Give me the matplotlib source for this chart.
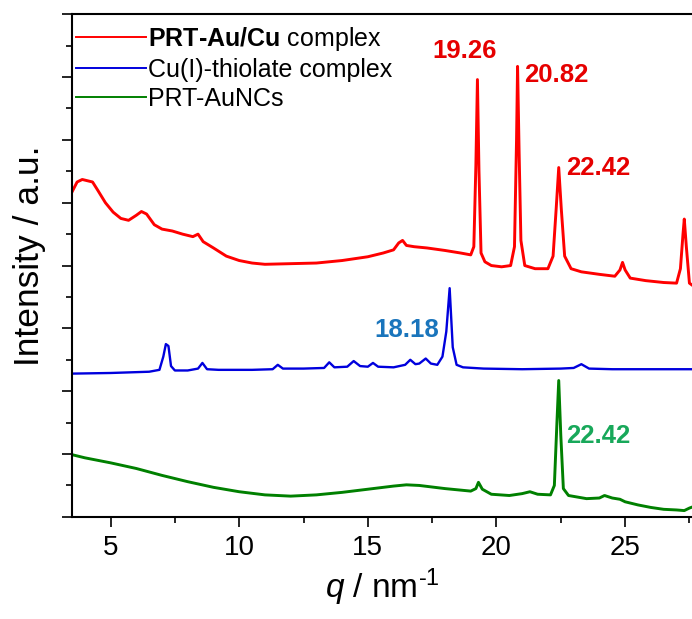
import matplotlib
matplotlib.use("Agg")
import matplotlib.pyplot as plt
from matplotlib.ticker import MultipleLocator, NullFormatter

plt.rcParams['font.family'] = ['Liberation Sans', 'DejaVu Sans']
plt.rcParams['mathtext.fontset'] = 'custom'
plt.rcParams['mathtext.rm'] = 'Liberation Sans'
plt.rcParams['mathtext.it'] = 'Liberation Sans:italic'
plt.rcParams['mathtext.bf'] = 'Liberation Sans:bold'

# PRT-Au/Cu complex (offset trace, top)
red_q = [3.5, 3.7, 3.9, 4.1, 4.3, 4.5, 4.8, 5.1, 5.4, 5.7, 6.0, 6.2, 6.4, 6.7,
         7.0, 7.4, 7.8, 8.2, 8.4, 8.6, 9.0, 9.5, 10.0, 10.5, 11.0, 12.0, 13.0,
         14.0, 15.0, 15.6, 16.0, 16.2, 16.35, 16.5, 16.8, 17.3, 18.0, 18.6,
         19.0, 19.12, 19.2, 19.26, 19.32, 19.4, 19.55, 19.8, 20.2, 20.55, 20.7,
         20.78, 20.82, 20.88, 20.95, 21.1, 21.5, 22.0, 22.2, 22.32, 22.42,
         22.52, 22.65, 22.9, 23.3, 24.0, 24.6, 24.8, 24.9, 25.0, 25.2, 25.8,
         26.5, 27.0, 27.15, 27.25, 27.3, 27.38, 27.5, 27.7]
red_i = [5.17, 5.33, 5.37, 5.35, 5.33, 5.20, 5.00, 4.85, 4.75, 4.72, 4.80, 4.86,
         4.82, 4.65, 4.58, 4.55, 4.50, 4.46, 4.50, 4.38, 4.28, 4.15, 4.08, 4.04,
         4.02, 4.03, 4.04, 4.08, 4.14, 4.20, 4.25, 4.36, 4.40, 4.32, 4.30, 4.28,
         4.24, 4.20, 4.17, 4.30, 5.60, 6.96, 5.50, 4.20, 4.06, 4.00, 3.98, 4.00,
         4.30, 6.00, 7.17, 5.80, 4.40, 4.00, 3.95, 3.95, 4.15, 4.90, 5.56, 4.90,
         4.15, 3.95, 3.90, 3.86, 3.83, 3.93, 4.05, 3.93, 3.80, 3.76, 3.73, 3.72,
         3.95, 4.50, 4.74, 4.30, 3.72, 3.66]

# Cu(I)-thiolate complex (middle)
blue_q = [3.5, 5.0, 6.5, 6.9, 7.05, 7.15, 7.25, 7.35, 7.5, 8.0, 8.4, 8.57, 8.75,
          9.2, 10.5, 11.3, 11.5, 11.7, 12.5, 13.3, 13.5, 13.7, 14.2, 14.45, 14.7,
          15.0, 15.2, 15.4, 16.0, 16.45, 16.65, 16.85, 17.0, 17.25, 17.45, 17.7,
          17.9, 18.05, 18.18, 18.3, 18.45, 18.7, 19.5, 21.0, 22.5, 23.0, 23.3,
          23.6, 24.5, 26.0, 27.7]
blue_i = [2.28, 2.29, 2.31, 2.34, 2.55, 2.75, 2.72, 2.40, 2.33, 2.33, 2.36, 2.45,
          2.35, 2.34, 2.34, 2.35, 2.42, 2.36, 2.36, 2.37, 2.46, 2.38, 2.39, 2.48,
          2.40, 2.39, 2.45, 2.39, 2.38, 2.42, 2.50, 2.43, 2.44, 2.52, 2.44, 2.42,
          2.55, 2.95, 3.64, 2.70, 2.42, 2.38, 2.36, 2.35, 2.36, 2.37, 2.43, 2.36,
          2.35, 2.35, 2.35]

# PRT-AuNCs (bottom)
green_q = [3.5, 4.0, 5.0, 6.0, 7.0, 8.0, 9.0, 10.0, 11.0, 12.0, 13.0, 14.0, 15.0,
           16.0, 16.5, 17.0, 18.0, 19.0, 19.2, 19.3, 19.45, 19.8, 20.5, 21.0,
           21.3, 21.6, 22.1, 22.25, 22.35, 22.42, 22.5, 22.6, 22.8, 23.5, 24.0,
           24.2, 24.5, 24.8, 25.0, 25.5, 26.0, 26.5, 27.0, 27.3, 27.5, 27.7]
green_i = [0.99, 0.94, 0.86, 0.77, 0.66, 0.56, 0.47, 0.40, 0.35, 0.33, 0.35, 0.39,
           0.44, 0.49, 0.51, 0.50, 0.45, 0.41, 0.45, 0.55, 0.44, 0.36, 0.34, 0.37,
           0.40, 0.36, 0.35, 0.50, 1.50, 2.17, 1.30, 0.45, 0.34, 0.29, 0.30, 0.34,
           0.30, 0.28, 0.24, 0.19, 0.15, 0.12, 0.11, 0.10, 0.14, 0.17]

labels = ["$\\mathbf{PRT\u2010Au/Cu}$ complex", "Cu(I)-thiolate complex", "PRT-AuNCs"]
line_colors = ["#ff0000", "#0000dd", "#008000"]
line_widths = [2.1, 1.7, 2.1]

# peak annotations: text, position
peak_text = ["19.26", "20.82", "22.42", "18.18", "22.42"]
peak_xy = [(18.76, 7.42), (22.33, 7.04), (23.96, 5.56), (16.51, 2.97), (23.96, 1.29)]
peak_colors = ["#e60000", "#e60000", "#e60000", "#1a75bc", "#18a85a"]

fig = plt.figure(figsize=(6.92, 6.19), dpi=100)
ax = fig.add_axes([0.104, 0.165, 0.896, 0.812])

for q, inten, lab, c, w in zip([red_q, blue_q, green_q], [red_i, blue_i, green_i],
                               labels, line_colors, line_widths):
    ax.plot(q, inten, color=c, lw=w, label=lab)

for t, (x, y), c in zip(peak_text, peak_xy, peak_colors):
    ax.text(x, y, t, color=c, fontsize=18.5, fontweight='bold', ha='center', va='center')

ax.set_xlim(3.5, 27.6)
ax.set_ylim(0, 8)
ax.xaxis.set_major_locator(MultipleLocator(5))
ax.xaxis.set_minor_locator(MultipleLocator(2.5))
ax.yaxis.set_major_locator(MultipleLocator(1))
ax.yaxis.set_minor_locator(MultipleLocator(0.5))
ax.yaxis.set_major_formatter(NullFormatter())

ax.spines['right'].set_visible(False)
for s in ['left', 'bottom', 'top']:
    ax.spines[s].set_linewidth(1.5)
ax.tick_params(axis='both', which='major', direction='out', length=7, width=1.2,
               labelsize=20, pad=6)
ax.tick_params(axis='both', which='minor', direction='out', length=4, width=1.2)
ax.tick_params(axis='x', which='both', top=False)

ax.set_xlabel("$q$ / nm$^{\u20101}$", fontsize=24, labelpad=4)
ax.set_ylabel("Intensity / a.u.", fontsize=25.5)
ax.yaxis.set_label_coords(-0.042, 0.52)

leg = ax.legend(loc='upper left', bbox_to_anchor=(-0.018, 1.008), frameon=False,
                fontsize=18, handlelength=2.8, handletextpad=0.1, labelspacing=0.2,
                borderaxespad=0.2)
for h in leg.get_lines():
    h.set_linewidth(1.4)

fig.savefig("out.png", dpi=100)
